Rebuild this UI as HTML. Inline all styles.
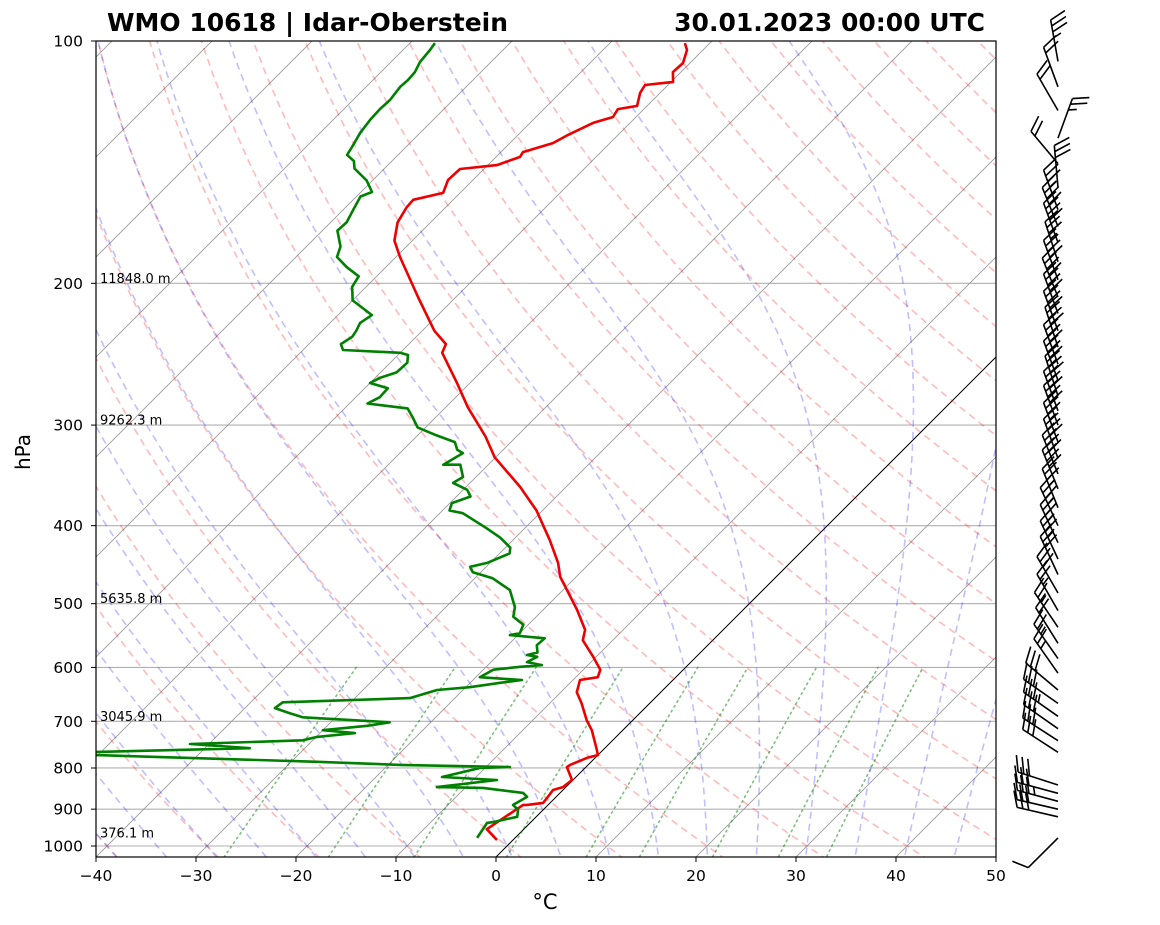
<!DOCTYPE html>
<html><head><meta charset="utf-8">
<style>
html,body{margin:0;padding:0;background:#fff;}
svg{display:block;font-family:"DejaVu Sans","Liberation Sans",sans-serif;}
</style></head>
<body>
<svg id="chart" width="1160" height="925" viewBox="0 0 1160 925" xmlns="http://www.w3.org/2000/svg">
<defs><clipPath id="plotclip"><rect x="96" y="41" width="900" height="816"/></clipPath></defs>
<rect x="0" y="0" width="1160" height="925" fill="#fff"/>
<text x="107" y="31" font-size="25" font-weight="bold" textLength="401" lengthAdjust="spacingAndGlyphs">WMO 10618 | Idar-Oberstein</text>
<text x="985" y="31" font-size="25" font-weight="bold" text-anchor="end">30.01.2023 00:00 UTC</text>
<g id="bg" clip-path="url(#plotclip)"></g>
<g id="series" clip-path="url(#plotclip)"></g>
<g id="axes"></g>
<g id="barbs"></g>
<text x="30" y="452" font-size="20" text-anchor="middle" transform="rotate(-90 30 452)">hPa</text>
<text x="545" y="909" font-size="21" text-anchor="middle">°C</text>
</svg>
<script>
// ---- data ----
const tempP = [983,953,889,889,884,872,852,845,828,798,793,777,771,760,718,698,665,644,622,617,604,582,555,539,509,463,445,417,383,358,329,310,285,266,244,238,229,208,185.5,177,168,161,157.5,154.4,148.8,144.2,142.6,139.3,137.4,133.9,130.8,126.4,124.3,121.5,120.4,116.0,113.4,112.4,109.3,106.5,102.6,100.6];
const tempT = [-1.6,-3.7,-2.5,-2.1,-0.7,-0.8,-1.0,-0.3,-0.1,-1.9,-1.8,-0.8,0,-0.6,-3.1,-4.6,-6.8,-8.4,-9.3,-7.8,-8.3,-10.3,-13.0,-13.8,-16.6,-21.6,-23.2,-26.3,-30.6,-34.6,-40.1,-43.1,-47.8,-51.3,-55.8,-56.3,-58.8,-63.8,-69.6,-71.8,-73.3,-73.9,-74.0,-71.7,-72.5,-72.4,-69.1,-67.6,-67.8,-65.7,-65.0,-63.7,-62.3,-62.6,-61.0,-62.0,-62.3,-59.8,-60.8,-60.7,-61.6,-62.5];
const dewP = [977,936,934,920,902,889,869,859,847,845,828,821,800,798,793,786,771,764,764,756,747,739,732,724,718,709,702,692,684,674,663,655,640,635,627,622,617,604,599,596,591,582,579,575,563,552,547,544,531,519,505,481,465,457,450,445,433,426,414,403,386,383,375,368,361,354,348,336,336,325,322,315,309,302,294,286,282,277,270,266,262,258,251,245.5,244,242,238,233,229,224,219,210,202,196,191,185.5,180,172,168,162,156,154,149,144,141,138.5,135.4,130,125.3,121.5,118.4,114.0,111.8,109.3,106.2,102.6,100.6];
const dewT = [-3.8,-4.3,-3.8,-1.9,-2.5,-3.5,-2.9,-3.7,-8.2,-12.9,-7.6,-13.4,-10.5,-7.6,-18.8,-27.4,-50.1,-54.1,-50.4,-35.5,-41.9,-31.0,-29.9,-26.5,-30.0,-26.0,-24.1,-33.3,-35.0,-37.0,-36.8,-24.5,-22.6,-19.6,-17.0,-15.1,-19.6,-19.0,-16.6,-14.6,-16.4,-15.9,-17.1,-16.3,-17.1,-17.0,-20.8,-20.0,-20.5,-22.3,-23.1,-25.3,-28.2,-30.8,-31.6,-30.3,-29.0,-29.5,-31.5,-33.8,-37.7,-39.3,-39.8,-38.6,-39.6,-41.7,-41.3,-42.8,-44.5,-43.7,-44.6,-45.6,-48.1,-50.8,-52.2,-53.7,-58.2,-57.6,-57.7,-60.0,-59.5,-58.4,-58.3,-59.0,-60.0,-66.0,-66.8,-66.4,-66.6,-67.0,-66.6,-70.0,-71.4,-71.8,-73.9,-75.9,-76.6,-78.5,-78.4,-79.0,-79.6,-78.9,-80.6,-83.0,-83.8,-85.1,-85.4,-86.0,-86.3,-86.4,-86.3,-86.6,-86.5,-86.6,-87.1,-87.3,-87.5];
const windP = [977,920,900,880,860,840,765,740,715,690,665,640,610,585,560,535,510,485,460,440,420,400,380,360,345,330,315,300,288,276,264,252,240,229,218,208,198,188,178,170,162,152,142,132,122,114,106];
const windSpd = [10,30,30,35,30,30,30,30,30,35,30,30,25,25,20,25,25,30,30,35,35,35,35,40,40,40,35,40,40,40,40,40,40,40,40,40,40,35,40,40,35,30,20,25,20,20,35];
const windDir = [225,283,283,285,285,288,303,303,305,305,305,310,325,325,328,326,330,330,335,335,335,335,338,338,338,340,340,340,340,342,340,340,342,340,340,338,340,342,340,338,340,355,320,20,330,340,350];
const yTicks = [100,200,300,400,500,600,700,800,900,1000];
const xTicks = [-40,-30,-20,-10,0,10,20,30,40,50];
const heightP = [200,300,500,700,977];
const heightLbl = ["11848.0 m","9262.3 m","5635.8 m","3045.9 m","376.1 m"];
const mixW = [0.4,1,2,4,7,10,16,24,32];

// ---- axes functions ----
const L=96,R=996,T=41,B=857;
function yP(p){return 846+805*Math.log10(p/1000);}
function xT(t,p){return L+(t+40)*10+(B-yP(p));}
const NS="http://www.w3.org/2000/svg";
function mk(tag,parent,attrs){const e=document.createElementNS(NS,tag);for(const k in attrs)e.setAttribute(k,attrs[k]);parent.appendChild(e);return e;}
const bg=document.getElementById('bg'),series=document.getElementById('series'),axes=document.getElementById('axes'),barbs=document.getElementById('barbs');

// horizontal grid
yTicks.forEach(p=>{const l=mk('line',bg,{x1:L,x2:R,y1:yP(p),y2:yP(p),stroke:'#b0b0b0','stroke-width':1.1});

});
// isotherms
for(let t=-130;t<=50;t+=10){const l=mk('line',bg,{x1:xT(t,1050),y1:yP(1050),x2:xT(t,90),y2:yP(90),stroke:t===0?'#000':'#999','stroke-width':t===0?1:0.9});

}
function pathFrom(pts){return pts.map((q,i)=>(i?'L':'M')+q[0].toFixed(1)+' '+q[1].toFixed(1)).join(' ');}
// dry adiabats
for(let t0=-40;t0<=220;t0+=10){const pts=[];for(let p=1060;p>=95;p-=10){const tk=(t0+273.15)*Math.pow(p/1000,0.286)-273.15;pts.push([xT(tk,p),yP(p)]);}
const e=mk('path',bg,{d:pathFrom(pts),fill:'none',stroke:'rgb(255,0,0)','stroke-opacity':0.27,'stroke-width':1.6,'stroke-dasharray':'7,5'});

}
// moist adiabats
function es(tc){return 6.112*Math.exp(17.67*tc/(tc+243.5));}
function dTdp(p,tk){const Rd=287.04,Cp=1005.7,Lv=2.501e6,eps=0.622;const e=es(tk-273.15);const rs=eps*e/(p-e);return (Rd*tk+Lv*rs)/(Cp+Lv*Lv*rs*eps/(Rd*tk*tk))/p;}
function integ(tk,p0,p1,step){const pts=[];let p=p0,t=tk;pts.push([p,t]);while((step<0&&p>p1)||(step>0&&p<p1)){const k1=dTdp(p,t),k2=dTdp(p+step/2,t+k1*step/2),k3=dTdp(p+step/2,t+k2*step/2),k4=dTdp(p+step,t+k3*step);t+=step*(k1+2*k2+2*k3+k4)/6;p+=step;pts.push([p,t]);}return pts;}
for(let t0=-40;t0<=50;t0+=5){const up=integ(t0+273.15,1000,95,-5);const dn=integ(t0+273.15,1000,1060,5).reverse();const all=dn.concat(up.slice(1));
const e=mk('path',bg,{d:pathFrom(all.map(q=>[xT(q[1]-273.15,q[0]),yP(q[0])])),fill:'none',stroke:'rgb(0,0,255)','stroke-opacity':0.25,'stroke-width':1.6,'stroke-dasharray':'7,5'});

}
// mixing ratio lines
mixW.forEach(w=>{const pts=[];for(let p=1060;p>=600;p-=10){const e=(w/1000)*p/(0.622+w/1000);const lg=Math.log(e/6.112);const td=243.5*lg/(17.67-lg);pts.push([xT(td,p),yP(p)]);}
const e=mk('path',bg,{d:pathFrom(pts),fill:'none',stroke:'rgb(0,128,0)','stroke-opacity':0.5,'stroke-width':1.6,'stroke-dasharray':'1.6,4','stroke-linecap':'round'});

});

// profiles
const tLine=mk('path',series,{d:pathFrom(tempP.map((p,i)=>[xT(tempT[i],p),yP(p)])),fill:'none',stroke:'#ee0000','stroke-width':2.6,'stroke-linejoin':'round'});


const dLine=mk('path',series,{d:pathFrom(dewP.map((p,i)=>[xT(dewT[i],p),yP(p)])),fill:'none',stroke:'#008000','stroke-width':2.6,'stroke-linejoin':'round'});



// height labels
heightP.forEach((p,i)=>{const t=mk('text',axes,{x:100,y:yP(p)-0.5,'font-size':13});t.textContent=heightLbl[i];

});

// frame and ticks
const fr=mk('rect',axes,{x:L,y:T,width:R-L,height:B-T,fill:'none',stroke:'#000','stroke-width':1.2});


yTicks.forEach(p=>{const y=yP(p);mk('line',axes,{x1:L-5,x2:L,y1:y,y2:y,stroke:'#000','stroke-width':1});
const t=mk('text',axes,{x:83,y:y+5.5,'font-size':15.5,'text-anchor':'end'});t.textContent=p;

});
xTicks.forEach(v=>{const x=L+(v+40)*10;mk('line',axes,{x1:x,x2:x,y1:B,y2:B+5,stroke:'#000','stroke-width':1});
const t=mk('text',axes,{x:x,y:881,'font-size':15.5,'text-anchor':'middle'});t.textContent=(v<0?'\u2212':'')+Math.abs(v);

});

// wind barbs
windP.forEach((p,i)=>{const bx=1058,by=yP(p);const rad=windDir[i]*Math.PI/180;const sx=Math.sin(rad),sy=-Math.cos(rad);const Ls=42;
const tx=bx+Ls*sx,ty=by+Ls*sy;const px=-sy,py=sx;
let d='M'+bx.toFixed(1)+' '+by.toFixed(1)+' L'+tx.toFixed(1)+' '+ty.toFixed(1);
let spd=windSpd[i];let pos=0;
while(spd>=50){const ax=tx-pos*sx,ay=ty-pos*sy;const ex=ax+17*px,ey=ay+17*py;const cx=ax-7*sx,cy=ay-7*sy;d+=' M'+ax.toFixed(1)+' '+ay.toFixed(1)+' L'+ex.toFixed(1)+' '+ey.toFixed(1)+' L'+cx.toFixed(1)+' '+cy.toFixed(1);spd-=50;pos+=9;}
let full=Math.floor(spd/10),half=(spd%10)>=5;
if(full===0&&half&&pos===0)pos=6;
for(let k=0;k<full;k++){const ax=tx-pos*sx,ay=ty-pos*sy;d+=' M'+ax.toFixed(1)+' '+ay.toFixed(1)+' L'+(ax+17*(0.92*px+0.4*sx)).toFixed(1)+' '+(ay+17*(0.92*py+0.4*sy)).toFixed(1);pos+=6;}
if(half){const ax=tx-pos*sx,ay=ty-pos*sy;d+=' M'+ax.toFixed(1)+' '+ay.toFixed(1)+' L'+(ax+8.5*(0.92*px+0.4*sx)).toFixed(1)+' '+(ay+8.5*(0.92*py+0.4*sy)).toFixed(1);}
const e=mk('path',barbs,{d:d,fill:'none',stroke:'#000','stroke-width':1.6});

});
</script>
</body></html>
